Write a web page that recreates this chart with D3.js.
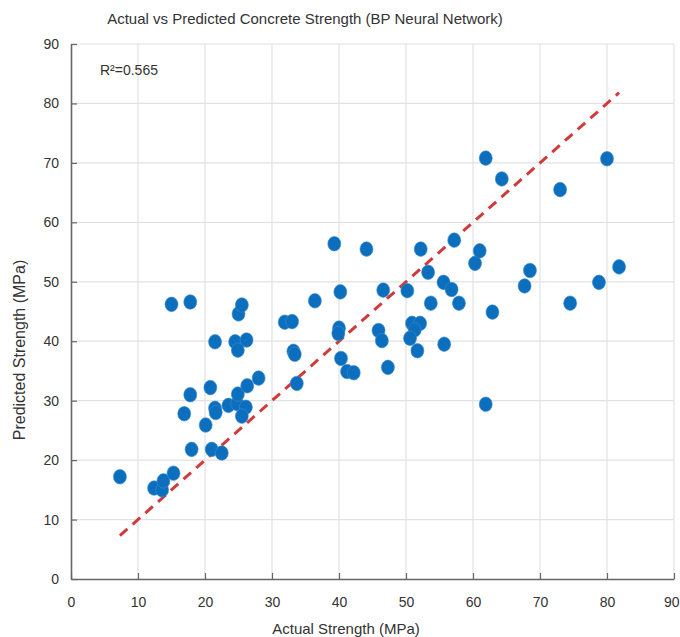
<!DOCTYPE html>
<html>
<head>
<meta charset="utf-8">
<script src="https://cdn.jsdelivr.net/npm/d3@7"></script>
<style>
  body { margin: 0; background: #fff; }
  svg text { font-family: "Liberation Sans", Arial, sans-serif; fill: #333; }
</style>
</head>
<body>
<svg id="chart" width="680" height="637"></svg>
<script>
// actual (MPa)
const actual = [
  7.3, 12.4, 13.6, 13.8, 15.3, 15.0, 17.8, 17.8, 18.0, 16.9,
  20.1, 20.8, 21.0, 21.5, 21.6, 21.5, 22.5, 23.5, 24.8, 26.1,
  25.5, 24.9, 26.3, 28.0, 24.5, 24.9, 26.2, 25.0, 25.5, 31.9,
  33.0, 33.2, 33.4, 33.7, 36.4, 40.2, 40.0, 39.9, 40.3, 41.2,
  42.2, 39.3, 44.1, 45.9, 46.4, 47.3, 46.6, 50.2, 52.2, 53.3,
  53.7, 50.9, 52.1, 51.3, 50.6, 51.7, 55.7, 55.6, 56.8, 57.9,
  57.2, 60.3, 61.0, 62.9, 61.9, 61.9, 64.3, 68.5, 67.7, 73.0,
  74.5, 78.8, 81.8, 80.0
];
// predicted (MPa), same order
const predicted = [
  17.2, 15.3, 15.0, 16.5, 17.8, 46.2, 46.6, 31.0, 21.8, 27.8,
  25.9, 32.2, 21.8, 28.7, 28.0, 39.9, 21.2, 29.2, 29.5, 28.9,
  27.4, 31.1, 32.5, 33.8, 39.9, 38.5, 40.2, 44.6, 46.1, 43.2,
  43.3, 38.3, 37.8, 32.9, 46.8, 48.3, 42.2, 41.3, 37.1, 34.9,
  34.7, 56.4, 55.5, 41.8, 40.1, 35.6, 48.6, 48.5, 55.5, 51.6,
  46.4, 43.0, 43.0, 41.9, 40.5, 38.4, 39.5, 49.9, 48.7, 46.4,
  57.0, 53.1, 55.2, 44.9, 29.4, 70.8, 67.3, 51.9, 49.3, 65.5,
  46.4, 49.9, 52.5, 70.7
];
const xTicks = [0, 10, 20, 30, 40, 50, 60, 70, 80, 90];
const yTicks = [0, 10, 20, 30, 40, 50, 60, 70, 80, 90];
const r2Label = "R²=0.565";

const points = actual.map((a, i) => ({actual: a, predicted: predicted[i]}));

const margin = {top: 44, right: 6, bottom: 58, left: 71};
const width = 680, height = 637;

const svg = d3.select('#chart');

const x = d3.scaleLinear().domain([0, 90]).range([margin.left, width - margin.right]);
const y = d3.scaleLinear().domain([0, 90]).range([height - margin.bottom, margin.top]);

// grid
svg.append('g')
  .selectAll('line')
  .data(xTicks.slice(1))
  .join('line')
    .attr('x1', d => x(d)).attr('x2', d => x(d))
    .attr('y1', y(0)).attr('y2', y(90))
    .attr('stroke', '#e2e2e2').attr('stroke-width', 1.2);

svg.append('g')
  .selectAll('line')
  .data(yTicks.slice(1))
  .join('line')
    .attr('x1', x(0)).attr('x2', x(90))
    .attr('y1', d => y(d)).attr('y2', d => y(d))
    .attr('stroke', '#e2e2e2').attr('stroke-width', 1.2);

// axes
const xAxis = svg.append('g')
  .attr('transform', `translate(0,${y(0)})`)
  .call(d3.axisBottom(x).tickValues(xTicks).tickSizeInner(-6).tickSizeOuter(0).tickPadding(18));

const yAxis = svg.append('g')
  .attr('transform', `translate(${x(0)},0)`)
  .call(d3.axisLeft(y).tickValues(yTicks).tickSizeInner(-6).tickSizeOuter(0).tickPadding(12));

[xAxis, yAxis].forEach(g => {
  g.select('.domain').attr('stroke', '#666').attr('stroke-width', 1.6);
  g.selectAll('.tick line').attr('stroke', '#666').attr('stroke-width', 1.2);
  g.selectAll('.tick text')
    .attr('font-family', '"Liberation Sans", Arial, sans-serif')
    .attr('font-size', 14).attr('fill', '#333');
});

// last x label sits flush against the right edge
xAxis.selectAll('.tick text')
  .filter(d => d === 90)
  .attr('text-anchor', 'end')
  .attr('dx', 5);

// y = x reference line over the range of actual values
const ext = d3.extent(actual);
svg.append('line')
  .attr('x1', x(ext[0])).attr('y1', y(ext[0]))
  .attr('x2', x(ext[1])).attr('y2', y(ext[1]))
  .attr('stroke', '#d13a3a')
  .attr('stroke-width', 3)
  .attr('stroke-dasharray', '10,7');

// points
svg.append('g')
  .selectAll('ellipse')
  .data(points)
  .join('ellipse')
    .attr('cx', d => x(d.actual))
    .attr('cy', d => y(d.predicted))
    .attr('rx', 6.5)
    .attr('ry', 7.3)
    .attr('fill', '#0b6fbe')
    .attr('stroke', '#3f8ccb')
    .attr('stroke-width', 0.6);

// labels
svg.append('text')
  .attr('x', 305).attr('y', 24)
  .attr('text-anchor', 'middle')
  .attr('font-size', 15)
  .text('Actual vs Predicted Concrete Strength (BP Neural Network)');

svg.append('text')
  .attr('x', 100).attr('y', 75)
  .attr('font-size', 14)
  .text(r2Label);

svg.append('text')
  .attr('x', 346).attr('y', 634)
  .attr('text-anchor', 'middle')
  .attr('font-size', 15)
  .text('Actual Strength (MPa)');

svg.append('text')
  .attr('transform', 'translate(25,350) rotate(-90)')
  .attr('text-anchor', 'middle')
  .attr('font-size', 16)
  .text('Predicted Strength (MPa)');
</script>
</body>
</html>
